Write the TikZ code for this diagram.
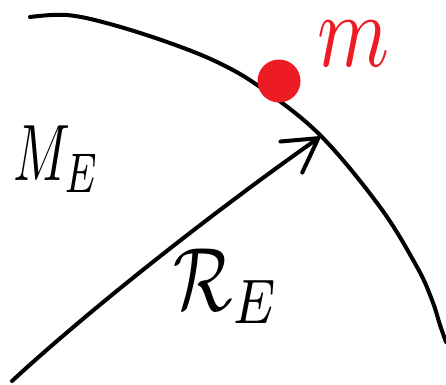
\documentclass[tikz,border=0pt]{standalone}
\usepackage{xcolor}
\usepackage{tikz}
\usetikzlibrary{arrows.meta, positioning, calc}
\definecolor{massred}{HTML}{ED1C24}
\tikzset{
    penline/.style={line width=4pt, line cap=round, line join=round, black},
    biglabel/.style={inner sep=0pt, anchor=base west}
}

\begin{document}
\begin{tikzpicture}[x=1pt, y=-1pt]
    \useasboundingbox (0,0) rectangle (446,384);

    % surface of the Earth
    \draw[penline] plot[smooth, tension=0.6] coordinates {(30,17) (67,15) (110,24) (167,42) (217,62) (260,87) (320,135) (380,207) (417,267) (432,300) (440,325) (446,342)};

    % radius vector
    \coordinate (centre) at (12,381);
    \coordinate (surf) at (320,137);
    \draw[penline, -{Straight Barb[length=33pt, width=38pt, round]}] (centre) .. controls (100,300) and (230,200) .. (surf);

    % mass on the surface
    \node[circle, fill=massred, minimum size=43pt, inner sep=0pt] (dot) at (279,81) {};
    \node[biglabel, text=massred, scale=10.5, xscale=0.78] (mlabel) at (316,66) {$m$};

    \node[biglabel, scale=8, xscale=0.66] (earth) at (12,180) {$M_E$};
    \node[biglabel, scale=9, xscale=0.78] (radius) at (172,310) {$\mathcal{R}_E$};
\end{tikzpicture}
\end{document}
